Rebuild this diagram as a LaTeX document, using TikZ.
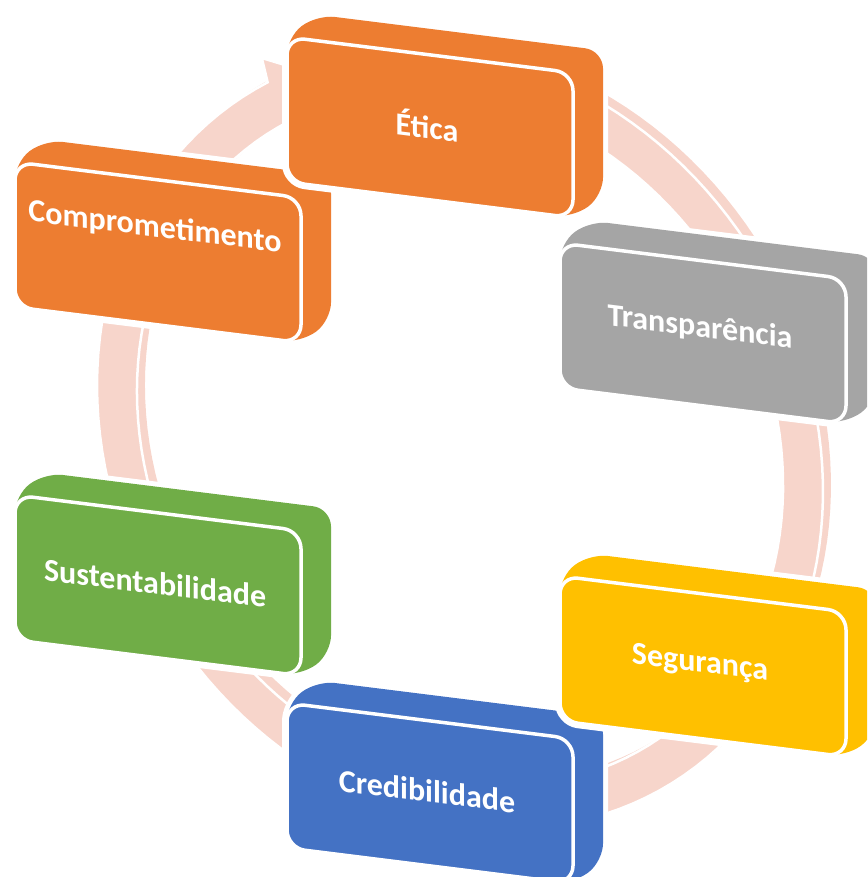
\documentclass[tikz,border=0pt]{standalone}
\usepackage{fontspec}
\setmainfont{Carlito}
\usetikzlibrary{calc}
\definecolor{ringpink}{HTML}{F7D5CB}
\definecolor{cOrange}{HTML}{ED7D31}
\definecolor{cGray}{HTML}{A5A5A5}
\definecolor{cGold}{HTML}{FFC000}
\definecolor{cBlue}{HTML}{4472C4}
\definecolor{cGreen}{HTML}{70AD47}
\tikzset{
  boxtext/.style={text=white, font=\fontsize{32}{38}\selectfont\bfseries, inner sep=0pt, transform shape},
  hullshape/.style={rounded corners=18pt},
  facestyle/.style={draw=white, line width=3.5pt, rounded corners=18pt},
  ringback/.style={fill=ringpink},
  ringfront/.style={fill=ringpink, draw=white, line width=2.5pt},
}
% box: name, X, Y (screen px of front top-left), colour, text, text y shift
\newcommand{\sacube}[6]{%
\begin{scope}[cm={1,-0.125,0,1,(#2,-#3)}]
  \draw[white, line width=10pt, hullshape] (0,-145) -- (0,0) -- (30,26) -- (316,26) -- (316,-119) -- (286,-145) -- cycle;
  \fill[#4, hullshape] (0,-145) -- (0,0) -- (30,26) -- (316,26) -- (316,-119) -- (286,-145) -- cycle;
  \draw[fill=#4, facestyle] (0,0) rectangle (286,-145);
  \node[boxtext] (#1) at (140,{-72.5+#6}) {#5};
\end{scope}}
\begin{document}
\begin{tikzpicture}[x=1pt,y=1pt]
\useasboundingbox (0,0) rectangle (867,-877);
\clip (0,0) rectangle (867,-877);
% ring arrow key points
\coordinate (barbout) at ({460+363*1.06*cos(599)},{-438.3-1.06*(53*cos(599)+386.7*sin(599))});
\coordinate (tip) at ({460+363*0.945*cos(608.5)},{-438.3-0.945*(53*cos(608.5)+386.7*sin(608.5))});
\coordinate (barbin) at ({460+363*0.83*cos(599)},{-438.3-0.83*(53*cos(599)+386.7*sin(599))});
\foreach \dx/\dy/\st in {8/6/ringback, 0/0/ringfront}{
\path[\st, shift={(\dx,\dy)}] plot[domain=262:598,samples=140] ({460+363*cos(\x)},{-438.3-(53*cos(\x)+386.7*sin(\x))})
  -- (barbout) -- (tip) -- (barbin)
  -- plot[domain=598:262,samples=140] ({460+363*0.89*cos(\x)},{-438.3-0.89*(53*cos(\x)+386.7*sin(\x))}) -- cycle;
}
% boxes
\sacube{comp}{15}{162}{cOrange}{Comprometimento}{24}
\sacube{etica}{287}{37}{cOrange}{Ética}{2}
\sacube{transp}{560}{243}{cGray}{Transparência}{5}
\sacube{sust}{15}{495}{cGreen}{Sustentabilidade}{2}
\sacube{cred}{287}{703}{cBlue}{Credibilidade}{2}
\sacube{seg}{560}{576}{cGold}{Segurança}{2}
\end{tikzpicture}
\end{document}
